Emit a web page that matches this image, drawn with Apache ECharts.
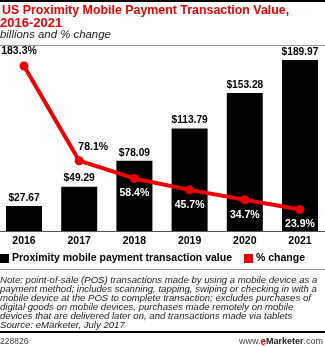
<!DOCTYPE html>
<html><head><meta charset="utf-8">
<script src="https://cdn.jsdelivr.net/npm/echarts@6/dist/echarts.min.js"></script>
<style>html,body{margin:0;padding:0;background:#fff}#c{width:325px;height:347px}</style>
</head><body><div id="c"></div>
<script>
var categories = ['2016','2017','2018','2019','2020','2021'];
var valueSeries = [27.67, 49.29, 78.09, 113.79, 153.28, 189.97];
var changeSeries = [183.3, 78.1, 58.4, 45.7, 34.7, 23.9];
var seriesNames = ['Proximity mobile payment transaction value', '% change'];
var titleLines = ['US Proximity Mobile Payment Transaction Value,', '2016-2021'];
var subtitle = 'billions and % change';
var noteLines = [
 'Note: point-of-sale (POS) transactions made by using a mobile device as a',
 'payment method; includes scanning, tapping, swiping or checking in with a',
 'mobile device at the POS to complete transaction; excludes purchases of',
 'digital goods on mobile devices, purchases made remotely on mobile',
 'devices that are delivered later on, and transactions made via tablets',
 'Source: eMarketer, July 2017'
];
var chartId = '228826';

var chart = echarts.init(document.getElementById('c'));
var F = '"Liberation Sans", Arial, sans-serif';
var RED = '#ee0000';

var lineData = changeSeries.map(function(v, i){
  var lab;
  if (i === 0) lab = {position:'top', offset:[-5,0], color:'#000'};
  else if (i === 1) lab = {position:'top', offset:[14,1], color:'#000'};
  else lab = {position:'bottom', distance:5, color:'#fff'};
  return {value: v, label: lab};
});

var graphics = [
  {type:'rect', shape:{x:0,y:0,width:325,height:2}, style:{fill:'#000'}},
  {type:'text', left:2, top:5, style:{text:titleLines[0], fill:RED, font:'bold 12.4px '+F}},
  {type:'text', left:0, top:17, style:{text:titleLines[1], fill:RED, font:'bold 13px '+F}},
  {type:'text', left:0, top:29.5, style:{text:subtitle, fill:'#222', font:'italic 11.4px '+F}},
  {type:'rect', shape:{x:0,y:45,width:325,height:1}, style:{fill:'#999'}},
  {type:'rect', shape:{x:0,y:269,width:325,height:1}, style:{fill:'#999'}},
  {type:'rect', shape:{x:0,y:331,width:325,height:2}, style:{fill:'#000'}},
  {type:'text', left:0, top:337, style:{text:chartId, fill:'#444', font:'8.5px '+F}},
  {type:'text', right:2, top:337, style:{rich:{a:{fill:'#444',font:'9px '+F},b:{fill:RED,font:'bold 10px '+F},c:{fill:'#222',font:'bold 9px '+F}}, text:'{a|www.}{b|e}{c|Marketer}{a|.com}'}}
];
noteLines.forEach(function(t, i){
  graphics.push({type:'text', left:0, top:275 + i*9, style:{text:t, fill:'#222', font:'italic 9.6px '+F}});
});

chart.setOption({
  animation:false,
  grid:{left:-3.6, right:-2.6, top:51, bottom:116, containLabel:false, outerBoundsMode:'none'},
  legend:{
    left:0, top:253, padding:0, width:325, itemWidth:9, itemHeight:9, itemGap:12,
    textStyle:{fontFamily:F, fontWeight:'bold', fontSize:10.5, color:'#000', padding:[0,0,0,-2]},
    data:[{name:seriesNames[0], icon:'rect'},{name:seriesNames[1], icon:'rect'}]
  },
  xAxis:{type:'category', data:categories,
    axisLine:{lineStyle:{color:'#555', width:1}}, axisTick:{show:false},
    axisLabel:{fontFamily:F, fontWeight:'bold', fontSize:10.5, color:'#000', margin:5}},
  yAxis:{type:'value', min:0, max:200, show:false, splitLine:{show:false}},
  series:[
    {name:seriesNames[0], type:'bar', data:valueSeries, barWidth:36, itemStyle:{color:'#000'},
     label:{show:true, position:'top', distance:3, fontFamily:F, fontWeight:'bold', fontSize:10.2, color:'#000',
       formatter:function(p){return '$'+p.value.toFixed(2);}}},
    {name:seriesNames[1], type:'line', data:lineData, z:5, symbol:'circle', symbolSize:9,
     lineStyle:{color:RED, width:4}, itemStyle:{color:RED},
     label:{show:true, fontFamily:F, fontWeight:'bold', fontSize:10.5,
       formatter:function(p){return p.value.toFixed(1)+'%';}}}
  ],
  graphic:graphics
});
</script></body></html>
